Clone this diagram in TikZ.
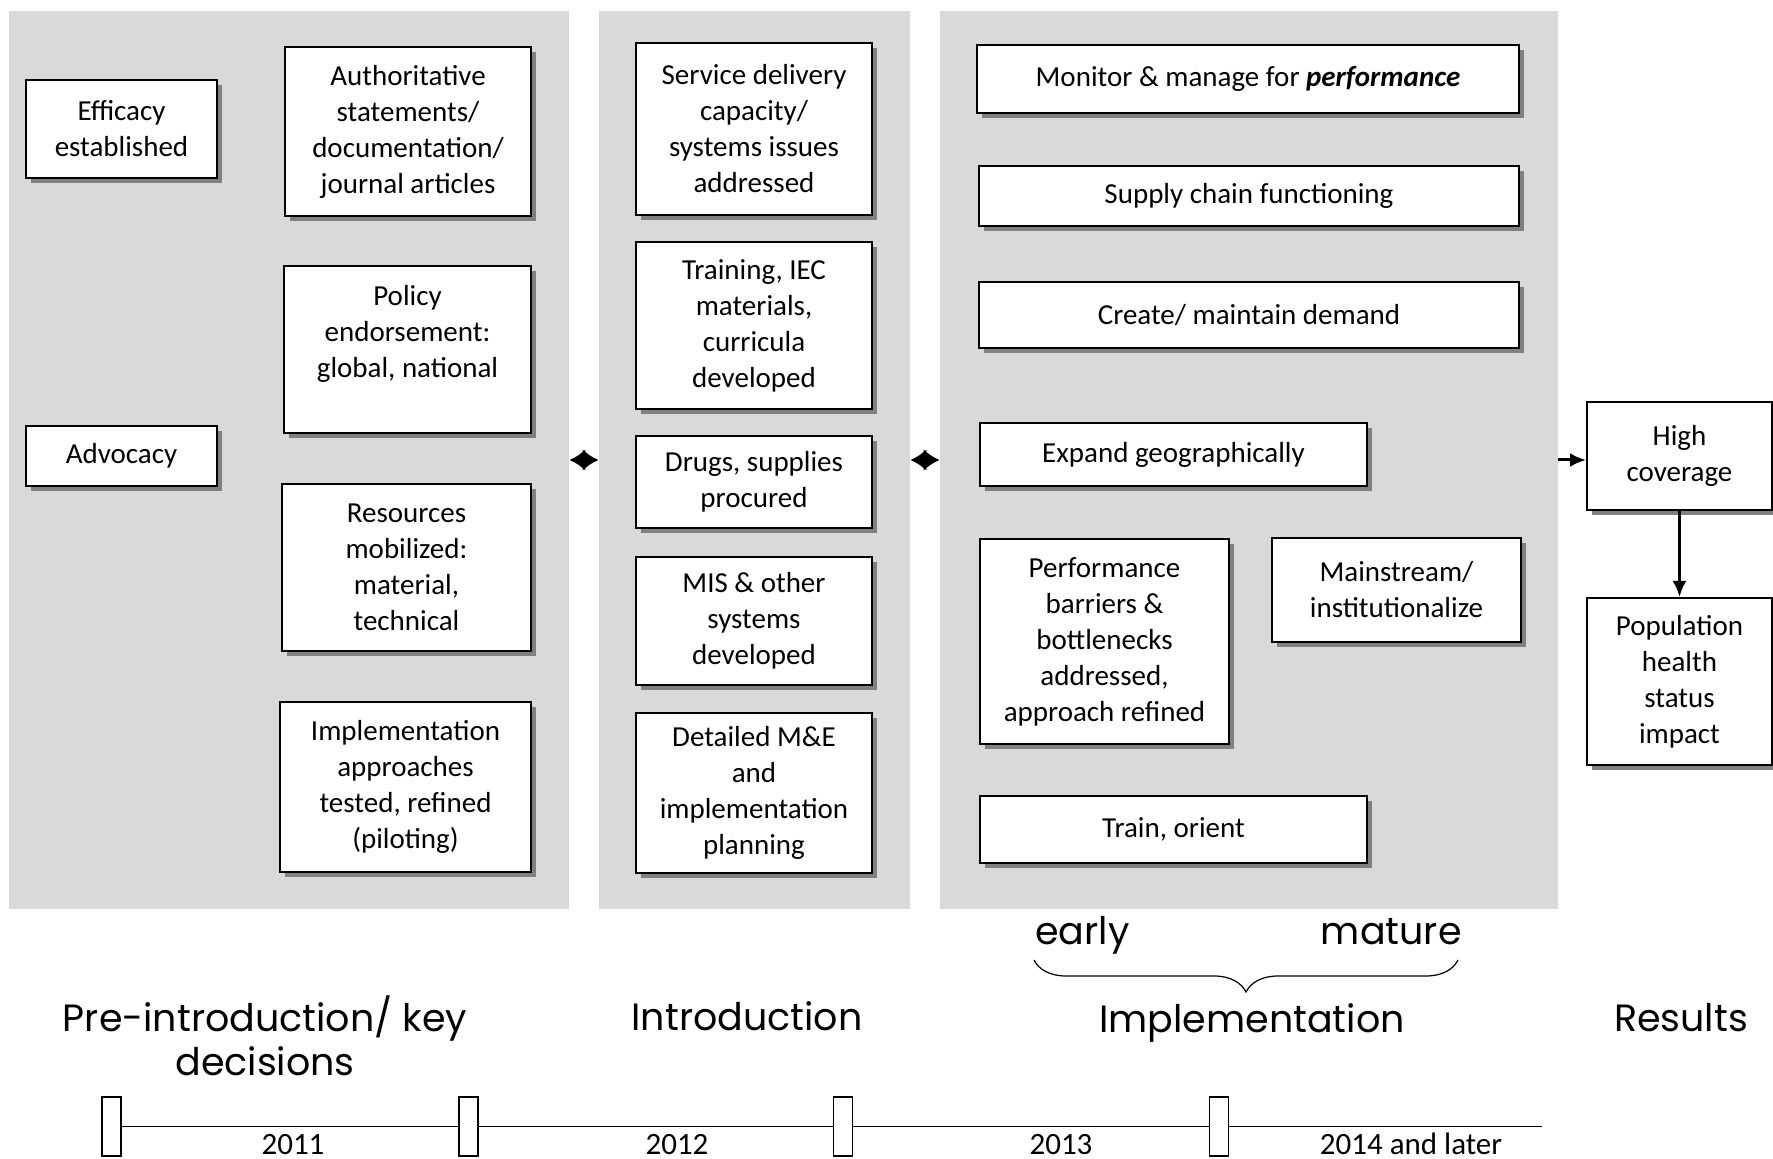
\documentclass[tikz,border=0pt]{standalone}
\usepackage{fontspec}
\setmainfont{Carlito}
\newfontfamily\phasefont{Poppins}
\usetikzlibrary{arrows.meta, shadows, decorations.pathreplacing}
\definecolor{panelgray}{RGB}{217,217,217}
\definecolor{shadowgray}{RGB}{128,128,128}

\begin{document}
\begin{tikzpicture}[x=0.5pt, y=-0.5pt,
    panel/.style={fill=panelgray, inner sep=0pt},
    box/.style={draw, line width=1pt, fill=white, align=center, inner sep=2pt,
        font=\fontsize{14.5}{18}\selectfont,
        general shadow={fill=shadowgray, shadow xshift=2.5pt, shadow yshift=-2.5pt}},
    sz/.style 2 args={minimum width=#1*0.5pt, minimum height=#2*0.5pt},
    phase/.style={font=\phasefont\fontsize{19}{22}\selectfont, inner sep=0pt, align=center},
    tick/.style={draw, line width=0.8pt, fill=white, minimum width=9.5pt, minimum height=29.5pt, inner sep=0pt},
    year/.style={font=\fontsize{15.5}{18}\selectfont, inner sep=0pt, anchor=base},
    link/.style={line width=1.6pt, {Latex[length=8pt,width=11pt]}-{Latex[length=8pt,width=11pt]}},
    flow/.style={line width=1.5pt, -{Latex[length=8pt,width=7pt]}}]
    \useasboundingbox (0,0) rectangle (1773,1159);

    \node[panel, sz={560}{898}] (pA) at (289,460) {};
    \node[panel, sz={311}{898}] (pB) at (754.5,460) {};
    \node[panel, sz={618}{898}] (pC) at (1249,460) {};

    \node[box, sz={191}{98}]  (eff)  at (121.5,129)   {Efficacy\\established};
    \node[box, sz={246}{169}] (auth) at (408,131.5)   {Authoritative\\statements/\\documentation/\\journal articles};
    \node[box, sz={247}{167}] (pol)  at (407.5,349.5) {Policy\\endorsement:\\global, national\\ \mbox{}};
    \node[box, sz={191}{60}]  (adv)  at (121.5,456)   {Advocacy};
    \node[box, sz={249}{167}] (res)  at (406.5,567.5) {Resources\\mobilized:\\material,\\technical};
    \node[box, sz={251}{170}] (impl) at (405.5,787)   {Implementation\\approaches\\tested, refined\\(piloting)};

    \node[box, sz={236}{172}] (svc) at (754,129)   {Service delivery\\capacity/\\systems issues\\addressed};
    \node[box, sz={236}{167}] (trn) at (754,325.5) {Training, IEC\\materials,\\curricula\\developed};
    \node[box, sz={236}{92}]  (drg) at (754,482)   {Drugs, supplies\\procured};
    \node[box, sz={236}{128}] (mis) at (754,621)   {MIS \& other\\systems\\developed};
    \node[box, sz={236}{160}] (mne) at (754,793)   {Detailed M\&E\\and\\implementation\\planning};

    \node[box, sz={542}{68}]  (mon)  at (1248,79)      {Monitor \& manage for \textbf{\textit{performance}}};
    \node[box, sz={540}{60}]  (sup)  at (1249,196)     {Supply chain functioning};
    \node[box, sz={540}{66}]  (dem)  at (1249,315)     {Create/ maintain demand};
    \node[box, sz={387}{63}]  (expd) at (1173.5,454.5) {Expand geographically};
    \node[box, sz={249}{205}] (bar)  at (1104.5,641.5) {Performance\\barriers \&\\bottlenecks\\addressed,\\approach refined};
    \node[box, sz={249}{104}] (mai)  at (1396.5,590)   {Mainstream/\\institutionalize};
    \node[box, sz={387}{67}]  (tro)  at (1173.5,829.5) {Train, orient};

    \node[box, sz={185}{108}] (cov) at (1679.5,456)   {High\\coverage};
    \node[box, sz={185}{167}] (pop) at (1679.5,681.5) {Population\\health\\status\\impact};

    \draw[link] (pA.east) -- (pB.west);
    \draw[link] (pB.west -| pB.east) -- (pC.west);
    \draw[flow] (pC.east) -- (pC.east -| cov.west);
    \draw[flow] (cov.south) -- (pop.north);

    \node[phase, anchor=base west] (early) at (1035,944) {early};
    \node[phase, anchor=base east] (mature) at (1462,944) {mature};
    \coordinate (bl) at (1034,960);
    \coordinate (br) at (1458,960);
    \draw[line width=0.6pt, decorate, decoration={brace, amplitude=16pt, mirror}] (bl) -- (br);

    \node[phase, anchor=north] (pre) at (265,995) {Pre-introduction/ key\\decisions};
    \node[phase, anchor=base] (intro) at (747,1030) {Introduction};
    \node[phase, anchor=base] (implem) at (1252,1032) {Implementation};
    \node[phase, anchor=base] (result) at (1681,1031) {Results};

    \node[tick] (t1) at (111.5,1126.5) {};
    \node[tick] (t2) at (468.5,1126.5) {};
    \node[tick] (t3) at (843,1126.5) {};
    \node[tick] (t4) at (1219,1126.5) {};
    \coordinate (tend) at (1542,1126.5);
    \draw[line width=0.8pt] (t1.east) -- (t2.west) (t2.east) -- (t3.west) (t3.east) -- (t4.west) (t4.east) -- (tend);

    \node[year] at (293,1154) {2011};
    \node[year] at (677,1154) {2012};
    \node[year] at (1061,1154) {2013};
    \node[year] at (1411,1154) {2014 and later};
\end{tikzpicture}
\end{document}
